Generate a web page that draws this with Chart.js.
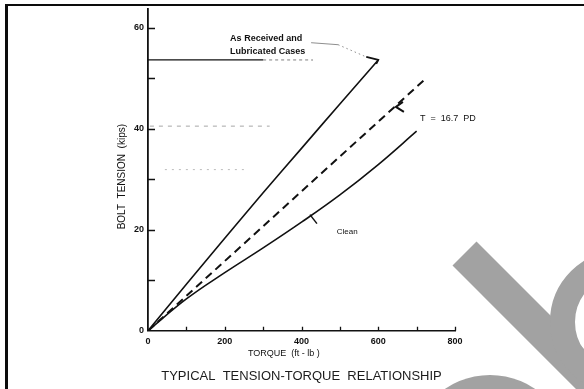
<!DOCTYPE html>
<html>
<head>
<meta charset="utf-8">
<title>Typical Tension-Torque Relationship</title>
<script src="https://cdn.jsdelivr.net/npm/chart.js@4.4.1/dist/chart.umd.min.js"></script>
<style>
  html, body { margin: 0; padding: 0; background: #fff; }
</style>
</head>
<body>
<canvas id="tensionChart" width="584" height="389"></canvas>
<script>
// Torque (ft-lb) against bolt tension (kips) for the as received / lubricated bolts
const torqueAsReceived = [0, 100, 200, 300, 400, 500, 600];
const tensionAsReceived = [0, 9.2, 18.3, 27.3, 36.1, 44.9, 53.6];

// Same readings for the clean bolts
const torqueClean = [0, 100, 200, 300, 400, 500, 600, 700];
const tensionClean = [0, 6.3, 11.5, 16.4, 21.5, 26.9, 32.9, 39.5];

// End points of the straight line T = 16.7 PD
const torqueFormula = [0, 725];
const tensionFormula = [0, 50];

// Horizontal guide at the top reading, plus two faint ones further down
const guideTop = [0, 300];
const guideTopTail = [300, 430];
const guideTopLevel = 53.6;
const guideMid = [5, 317];
const guideMidLevel = 40.5;
const guideLow = [44, 253];
const guideLowLevel = 31.9;

// Axis ticks and the ones that carry a label
const xTicks = [0, 100, 200, 300, 400, 500, 600, 700, 800];
const xLabels = [0, 200, 400, 600, 800];
const yTicks = [0, 10, 20, 30, 40, 50, 60];
const yLabels = [0, 20, 40, 60];

const narrow = '"Liberation Sans Narrow", "Liberation Sans", sans-serif';
const ink = '#111';

// Turns two arrays into {x, y} points for Chart.js
function toPoints(xs, ys) {
    let pts = [];
    for (let i = 0; i < xs.length; i++) {
        pts.push({ x: xs[i], y: ys[i] });
    }
    return pts;
}

// Flat line at one tension level between two torque values
function flatLine(xs, level) {
    return [{ x: xs[0], y: level }, { x: xs[1], y: level }];
}

// White page with the heavy left rule and the thin top rule
const framePlugin = {
    id: 'frame',
    beforeDraw(chart) {
        let ctx = chart.ctx;
        ctx.save();
        ctx.fillStyle = '#fff';
        ctx.fillRect(0, 0, chart.width, chart.height);
        ctx.fillStyle = '#0c0c0c';
        ctx.fillRect(5, 5, 3, chart.height - 5);
        ctx.fillRect(5, 4, chart.width - 5, 2);
        ctx.restore();
    }
};

// Tick marks that point into the plot area
const inwardTicksPlugin = {
    id: 'inwardTicks',
    afterDatasetsDraw(chart) {
        let ctx = chart.ctx;
        let x = chart.scales.x;
        let y = chart.scales.y;
        ctx.save();
        ctx.strokeStyle = ink;
        ctx.lineWidth = 1.3;
        ctx.beginPath();
        for (let v of yTicks) {
            if (v === 0) continue;
            let py = Math.round(y.getPixelForValue(v)) + 0.5;
            ctx.moveTo(x.left, py);
            ctx.lineTo(x.left + 7, py);
        }
        for (let v of xTicks) {
            if (v === 0) continue;
            let px = Math.round(x.getPixelForValue(v)) + 0.5;
            ctx.moveTo(px, y.bottom);
            ctx.lineTo(px, y.bottom - 4);
        }
        ctx.stroke();
        ctx.restore();
    }
};

// Curve labels, their pointers and the two axis titles
const notesPlugin = {
    id: 'notes',
    afterDatasetsDraw(chart) {
        let ctx = chart.ctx;
        let x = chart.scales.x;
        let y = chart.scales.y;
        let at = (t, k) => [x.getPixelForValue(t), y.getPixelForValue(k)];

        ctx.save();
        ctx.fillStyle = ink;
        ctx.strokeStyle = ink;
        ctx.textBaseline = 'middle';
        ctx.textAlign = 'left';

        // As received and lubricated label with its leader
        let [ax, ay] = at(214, 57.8);
        ctx.font = 'bold 9px ' + narrow;
        ctx.fillText('As Received and', ax, ay);
        ctx.fillText('Lubricated Cases', ax, ay + 13);

        let [ex, ey] = at(600, 53.6);
        ctx.lineWidth = 0.8;
        ctx.globalAlpha = 0.6;
        ctx.beginPath();
        ctx.moveTo(ax + 81, ay + 4);
        ctx.lineTo(ax + 108, ay + 6);
        ctx.stroke();
        ctx.setLineDash([1.5, 3]);
        ctx.beginPath();
        ctx.moveTo(ax + 108, ay + 6);
        ctx.lineTo(ex - 12, ey - 3);
        ctx.stroke();
        ctx.setLineDash([]);
        ctx.globalAlpha = 1;
        ctx.lineWidth = 1.8;
        ctx.beginPath();
        ctx.moveTo(ex - 12, ey - 3);
        ctx.lineTo(ex, ey);
        ctx.lineTo(ex - 2, ey + 4);
        ctx.stroke();

        // Chevron on the dashed line and its formula
        let [cx, cy] = at(646, 44.3);
        ctx.lineWidth = 2;
        ctx.beginPath();
        ctx.moveTo(cx + 7, cy - 5);
        ctx.lineTo(cx, cy);
        ctx.lineTo(cx + 8, cy + 5);
        ctx.stroke();
        let [fx, fy] = at(709, 42.1);
        ctx.font = '9px ' + narrow;
        ctx.fillText('T  =  16.7  PD', fx, fy);

        // Clean label and the small tick across its curve
        let [kx, ky] = at(422, 22.4);
        ctx.lineWidth = 1.5;
        ctx.beginPath();
        ctx.moveTo(kx, ky - 3);
        ctx.lineTo(kx + 7, ky + 6);
        ctx.stroke();
        let [lx, ly] = at(492, 19.6);
        ctx.font = '8px ' + narrow;
        ctx.fillText('Clean', lx, ly);

        // Axis titles
        ctx.textAlign = 'center';
        ctx.font = '9px ' + narrow;
        let [tx] = at(354, 0);
        ctx.fillText('TORQUE  (ft - lb )', tx, y.bottom + 23);

        ctx.font = '10px ' + narrow;
        ctx.translate(x.left - 26, y.getPixelForValue(30.5));
        ctx.rotate(-Math.PI / 2);
        ctx.fillText('BOLT  TENSION  (kips)', 0, 0);
        ctx.restore();
    }
};

// Grey stamp in the lower right corner
const stampPlugin = {
    id: 'stamp',
    afterDraw(chart) {
        let ctx = chart.ctx;
        ctx.save();
        ctx.fillStyle = '#a2a2a2';
        ctx.strokeStyle = '#a2a2a2';

        ctx.lineWidth = 34;
        ctx.lineCap = 'butt';
        ctx.beginPath();
        ctx.moveTo(464.5, 253.5);
        ctx.lineTo(640, 429);
        ctx.stroke();

        ctx.lineWidth = 25;
        ctx.beginPath();
        ctx.arc(622, 322, 59.5, 0, Math.PI * 2);
        ctx.stroke();

        ctx.beginPath();
        ctx.arc(490, 455, 80, 0, Math.PI * 2);
        ctx.fill();
        ctx.restore();
    }
};

let ctx = document.getElementById('tensionChart').getContext('2d');

let tensionChart = new Chart(ctx, {
    type: 'scatter',
    data: {
        datasets: [
            {
                label: 'As Received and Lubricated Cases',
                data: toPoints(torqueAsReceived, tensionAsReceived),
                borderColor: ink,
                borderWidth: 1.6,
                tension: 0.3
            },
            {
                label: 'T = 16.7 PD',
                data: toPoints(torqueFormula, tensionFormula),
                borderColor: ink,
                borderWidth: 2,
                borderDash: [8, 5]
            },
            {
                label: 'Clean',
                data: toPoints(torqueClean, tensionClean),
                borderColor: ink,
                borderWidth: 1.6,
                tension: 0.4
            },
            {
                label: 'guide',
                data: flatLine(guideTop, guideTopLevel),
                borderColor: ink,
                borderWidth: 1.3
            },
            {
                label: 'guide tail',
                data: flatLine(guideTopTail, guideTopLevel),
                borderColor: 'rgba(20,20,20,0.55)',
                borderWidth: 1,
                borderDash: [3, 3]
            },
            {
                label: 'faint guide',
                data: flatLine(guideMid, guideMidLevel),
                borderColor: 'rgba(60,60,60,0.45)',
                borderWidth: 1,
                borderDash: [4, 5]
            },
            {
                label: 'faint guide low',
                data: flatLine(guideLow, guideLowLevel),
                borderColor: 'rgba(60,60,60,0.35)',
                borderWidth: 1,
                borderDash: [2, 5]
            }
        ]
    },
    options: {
        responsive: false,
        animation: false,
        showLine: true,
        elements: { point: { radius: 0, hoverRadius: 0 } },
        layout: { padding: { left: 108, right: 129, top: 5, bottom: 3 } },
        plugins: {
            legend: { display: false },
            tooltip: { enabled: false },
            title: {
                display: true,
                text: 'TYPICAL  TENSION-TORQUE  RELATIONSHIP',
                position: 'bottom',
                fullSize: false,
                color: '#1c1c1c',
                font: { family: narrow, size: 13, weight: 'normal', lineHeight: 1.4 },
                padding: { top: 3, bottom: 0 }
            }
        },
        scales: {
            x: {
                type: 'linear',
                min: 0,
                max: 800,
                afterBuildTicks: (scale) => { scale.ticks = xTicks.map(v => ({ value: v })); },
                afterFit: (scale) => { scale.height = 34; },
                grid: { display: false, drawTicks: false },
                border: { display: true, color: ink, width: 1.6 },
                ticks: {
                    autoSkip: false,
                    maxRotation: 0,
                    padding: 5,
                    color: ink,
                    font: { family: narrow, size: 9, weight: 'bold' },
                    callback: (v) => xLabels.includes(v) ? String(v) : ''
                }
            },
            y: {
                type: 'linear',
                min: 0,
                max: 63.6,
                afterBuildTicks: (scale) => { scale.ticks = yTicks.map(v => ({ value: v })); },
                afterFit: (scale) => { scale.width = 40; },
                grid: { display: false, drawTicks: false },
                border: { display: true, color: ink, width: 1.8 },
                ticks: {
                    autoSkip: false,
                    padding: 4,
                    color: ink,
                    font: { family: narrow, size: 9, weight: 'bold' },
                    callback: (v) => yLabels.includes(v) ? String(v) : ''
                }
            }
        }
    },
    plugins: [framePlugin, inwardTicksPlugin, notesPlugin, stampPlugin]
});
</script>
</body>
</html>
